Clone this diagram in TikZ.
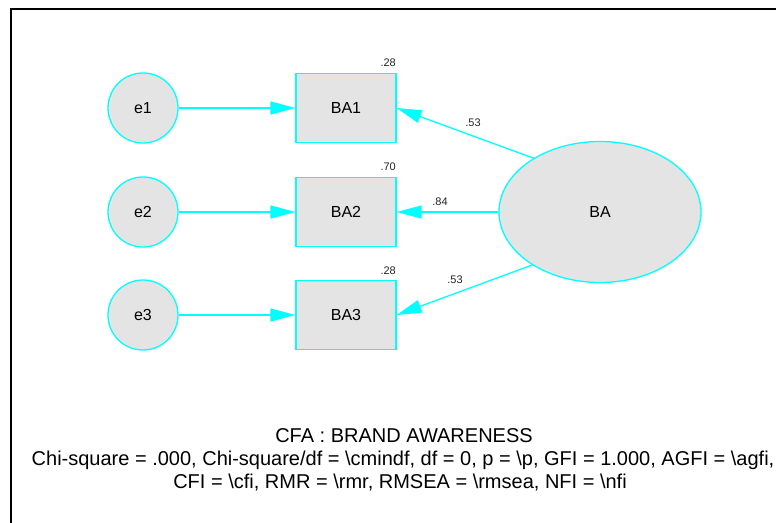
\documentclass[tikz,border=0pt]{standalone}
\usepackage{fontspec}
\setmainfont{Liberation Sans}
\usetikzlibrary{shapes.geometric,arrows.meta}
\definecolor{amoscyan}{RGB}{0,255,255}
\definecolor{amosgray}{RGB}{228,228,228}
\tikzset{
  obsbox/.style={draw=amoscyan, fill=amosgray, line width=1.3pt, minimum width=100pt, minimum height=69pt, inner sep=0pt, font=\fontsize{16}{18}\selectfont},
  errcirc/.style={circle, draw=amoscyan, fill=amosgray, line width=1.3pt, minimum size=70pt, inner sep=0pt, font=\fontsize{16}{18}\selectfont},
  latent/.style={ellipse, draw=amoscyan, fill=amosgray, line width=1.3pt, minimum width=202pt, minimum height=141pt, inner sep=0pt, font=\fontsize{16}{18}\selectfont},
  path/.style={draw=amoscyan, line width=1.3pt, -{Triangle[length=25pt, width=13pt, fill=amoscyan]}},
  coef/.style={font=\fontsize{11}{12}\selectfont, text=black!85, inner sep=0pt},
  foot/.style={font=\fontsize{20}{23}\selectfont, anchor=base, inner sep=0pt},
}
\begin{document}
\begin{tikzpicture}[x=1pt, y=-1pt]
\useasboundingbox (0,0) rectangle (776,522);
\fill[white] (0,0) rectangle (776,522);
\draw[line width=2.5pt, line cap=rect] (11,522) -- (11,9) -- (776,9);

\node[errcirc] (e1) at (143,108) {e1};
\node[errcirc] (e2) at (143,212) {e2};
\node[errcirc] (e3) at (143,315) {e3};

\node[obsbox] (BA1) at (346,108) {BA1};
\node[obsbox] (BA2) at (346,212) {BA2};
\node[obsbox] (BA3) at (346,315) {BA3};

\node[latent] (BA) at (600,212) {BA};

\node[coef, anchor=base east] (r1) at (396,66.5) {.28};
\node[coef, anchor=base east] (r2) at (396,170.5) {.70};
\node[coef, anchor=base east] (r3) at (396,274) {.28};

\draw[path] (e1) -- (BA1);
\draw[path] (e2) -- (BA2);
\draw[path] (e3) -- (BA3);

\draw[path] (BA.141) -- (BA1.east);
\draw[path] (BA.180) -- (BA2.east);
\draw[path] (BA.218) -- (BA3.east);

\node[coef] (l1) at (473,123) {.53};
\node[coef] (l2) at (440,202) {.84};
\node[coef] (l3) at (455,280) {.53};

\node[foot] (t1) at (404,442) {CFA : BRAND AWARENESS};
\node[foot] (t2) at (403,465) {Chi-square = .000, Chi-square/df = \textbackslash cmindf, df = 0, p = \textbackslash p, GFI = 1.000, AGFI = \textbackslash agfi,};
\node[foot] (t3) at (400,488) {CFI = \textbackslash cfi, RMR = \textbackslash rmr, RMSEA = \textbackslash rmsea, NFI = \textbackslash nfi};
\end{tikzpicture}
\end{document}
